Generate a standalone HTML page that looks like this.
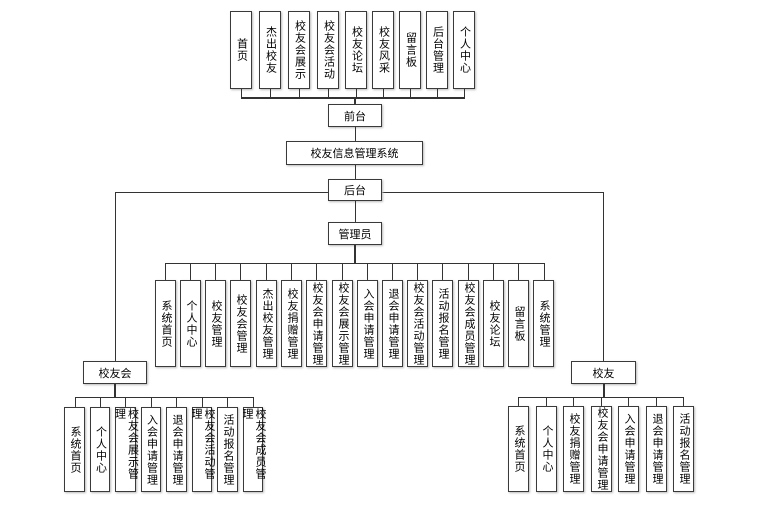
<!DOCTYPE html>
<html><head><meta charset="utf-8"><style>
body{margin:0;width:779px;height:514px;background:#fff;position:relative;overflow:hidden;font-family:"Liberation Sans","Noto Sans CJK SC",sans-serif;}
.b{position:absolute;box-sizing:border-box;border:1.5px solid #3a3a3a;background:#fff;box-shadow:1px 1px 2px #bbb;display:flex;align-items:center;justify-content:center;font-size:11px;color:#000;}
.v{writing-mode:vertical-rl;line-height:13px;letter-spacing:1px;}
.h{position:absolute;height:1px;background:#333;}
.l{position:absolute;width:1px;background:#333;}
</style></head><body>
<!-- top row -->
<div class="b v" style="left:230px;top:11px;width:22px;height:78px">首页</div>
<div class="b v" style="left:259px;top:11px;width:22px;height:78px">杰出校友</div>
<div class="b v" style="left:288px;top:11px;width:22px;height:78px">校友会展示</div>
<div class="b v" style="left:317px;top:11px;width:22px;height:78px">校友会活动</div>
<div class="b v" style="left:345px;top:11px;width:22px;height:78px">校友论坛</div>
<div class="b v" style="left:372px;top:11px;width:22px;height:78px">校友风采</div>
<div class="b v" style="left:399px;top:11px;width:22px;height:78px">留言板</div>
<div class="b v" style="left:426px;top:11px;width:22px;height:78px">后台管理</div>
<div class="b v" style="left:453px;top:11px;width:22px;height:78px">个人中心</div>
<div class="h" style="left:241px;top:97px;width:224px;height:2px"></div>
<div class="l" style="left:241px;top:89px;height:9px"></div>
<div class="l" style="left:270px;top:89px;height:9px"></div>
<div class="l" style="left:299px;top:89px;height:9px"></div>
<div class="l" style="left:328px;top:89px;height:9px"></div>
<div class="l" style="left:356px;top:89px;height:9px"></div>
<div class="l" style="left:383px;top:89px;height:9px"></div>
<div class="l" style="left:410px;top:89px;height:9px"></div>
<div class="l" style="left:437px;top:89px;height:9px"></div>
<div class="l" style="left:464px;top:89px;height:9px"></div>
<div class="l" style="left:354px;top:97px;height:8px;width:2px"></div>
<div class="b" style="left:328px;top:104px;width:54px;height:23px">前台</div>
<div class="l" style="left:355px;top:127px;height:14px"></div>
<div class="b" style="left:286px;top:141px;width:137px;height:24px">校友信息管理系统</div>
<div class="l" style="left:355px;top:165px;height:14px"></div>
<div class="h" style="left:115px;top:192px;width:489px"></div>
<div class="b" style="left:328px;top:179px;width:54px;height:22px">后台</div>
<div class="l" style="left:355px;top:201px;height:21px"></div>
<div class="b" style="left:328px;top:222px;width:54px;height:23px">管理员</div>
<div class="l" style="left:354px;top:245px;height:19px;width:2px"></div>
<div class="h" style="left:165px;top:263px;width:380px"></div>
<!-- admin row -->
<div class="l" style="left:165px;top:263px;height:17px"></div>
<div class="l" style="left:190px;top:263px;height:17px"></div>
<div class="l" style="left:215px;top:263px;height:17px"></div>
<div class="l" style="left:240px;top:263px;height:17px"></div>
<div class="l" style="left:266px;top:263px;height:17px"></div>
<div class="l" style="left:291px;top:263px;height:17px"></div>
<div class="l" style="left:316px;top:263px;height:17px"></div>
<div class="l" style="left:342px;top:263px;height:17px"></div>
<div class="l" style="left:367px;top:263px;height:17px"></div>
<div class="l" style="left:392px;top:263px;height:17px"></div>
<div class="l" style="left:417px;top:263px;height:17px"></div>
<div class="l" style="left:442px;top:263px;height:17px"></div>
<div class="l" style="left:468px;top:263px;height:17px"></div>
<div class="l" style="left:493px;top:263px;height:17px"></div>
<div class="l" style="left:518px;top:263px;height:17px"></div>
<div class="l" style="left:544px;top:263px;height:17px"></div>
<div class="b v" style="left:155px;top:280px;width:21px;height:87px">系统首页</div>
<div class="b v" style="left:180px;top:280px;width:21px;height:87px">个人中心</div>
<div class="b v" style="left:205px;top:280px;width:21px;height:87px">校友管理</div>
<div class="b v" style="left:230px;top:280px;width:21px;height:87px">校友会管理</div>
<div class="b v" style="left:256px;top:280px;width:21px;height:87px">杰出校友管理</div>
<div class="b v" style="left:281px;top:280px;width:21px;height:87px">校友捐赠管理</div>
<div class="b v" style="left:306px;top:280px;width:21px;height:87px">校友会申请管理</div>
<div class="b v" style="left:332px;top:280px;width:21px;height:87px">校友会展示管理</div>
<div class="b v" style="left:357px;top:280px;width:21px;height:87px">入会申请管理</div>
<div class="b v" style="left:382px;top:280px;width:21px;height:87px">退会申请管理</div>
<div class="b v" style="left:407px;top:280px;width:21px;height:87px">校友会活动管理</div>
<div class="b v" style="left:432px;top:280px;width:21px;height:87px">活动报名管理</div>
<div class="b v" style="left:458px;top:280px;width:21px;height:87px">校友会成员管理</div>
<div class="b v" style="left:483px;top:280px;width:21px;height:87px">校友论坛</div>
<div class="b v" style="left:508px;top:280px;width:21px;height:87px">留言板</div>
<div class="b v" style="left:533px;top:280px;width:21px;height:87px">系统管理</div>
<!-- left branch -->
<div class="l" style="left:115px;top:192px;height:169px"></div>
<div class="b" style="left:83px;top:361px;width:64px;height:23px">校友会</div>
<div class="l" style="left:114px;top:384px;height:14px;width:2px"></div>
<div class="h" style="left:75px;top:397px;width:179px"></div>
<div class="l" style="left:75px;top:397px;height:10px"></div>
<div class="l" style="left:100px;top:397px;height:10px"></div>
<div class="l" style="left:125px;top:397px;height:10px"></div>
<div class="l" style="left:151px;top:397px;height:10px"></div>
<div class="l" style="left:176px;top:397px;height:10px"></div>
<div class="l" style="left:202px;top:397px;height:10px"></div>
<div class="l" style="left:227px;top:397px;height:10px"></div>
<div class="l" style="left:253px;top:397px;height:10px"></div>
<div class="b v" style="left:64px;top:407px;width:21px;height:85px">系统首页</div>
<div class="b v" style="left:90px;top:407px;width:20px;height:85px">个人中心</div>
<div class="b v" style="left:115px;top:407px;width:21px;height:85px">校友会展示管理</div>
<div class="b v" style="left:141px;top:407px;width:20px;height:85px">入会申请管理</div>
<div class="b v" style="left:166px;top:407px;width:21px;height:85px">退会申请管理</div>
<div class="b v" style="left:192px;top:407px;width:20px;height:85px">校友会活动管理</div>
<div class="b v" style="left:217px;top:407px;width:21px;height:85px">活动报名管理</div>
<div class="b v" style="left:243px;top:407px;width:20px;height:85px">校友会成员管理</div>
<!-- right branch -->
<div class="l" style="left:603px;top:192px;height:169px"></div>
<div class="b" style="left:571px;top:361px;width:65px;height:23px">校友</div>
<div class="l" style="left:603px;top:384px;height:14px;width:2px"></div>
<div class="h" style="left:518px;top:397px;width:166px"></div>
<div class="l" style="left:518px;top:397px;height:9px"></div>
<div class="l" style="left:546px;top:397px;height:9px"></div>
<div class="l" style="left:573px;top:397px;height:9px"></div>
<div class="l" style="left:601px;top:397px;height:9px"></div>
<div class="l" style="left:628px;top:397px;height:9px"></div>
<div class="l" style="left:656px;top:397px;height:9px"></div>
<div class="l" style="left:683px;top:397px;height:9px"></div>
<div class="b v" style="left:508px;top:406px;width:21px;height:86px">系统首页</div>
<div class="b v" style="left:536px;top:406px;width:21px;height:86px">个人中心</div>
<div class="b v" style="left:563px;top:406px;width:21px;height:86px">校友捐赠管理</div>
<div class="b v" style="left:591px;top:406px;width:21px;height:86px">校友会申请管理</div>
<div class="b v" style="left:618px;top:406px;width:21px;height:86px">入会申请管理</div>
<div class="b v" style="left:646px;top:406px;width:21px;height:86px">退会申请管理</div>
<div class="b v" style="left:673px;top:406px;width:21px;height:86px">活动报名管理</div>
</body></html>
